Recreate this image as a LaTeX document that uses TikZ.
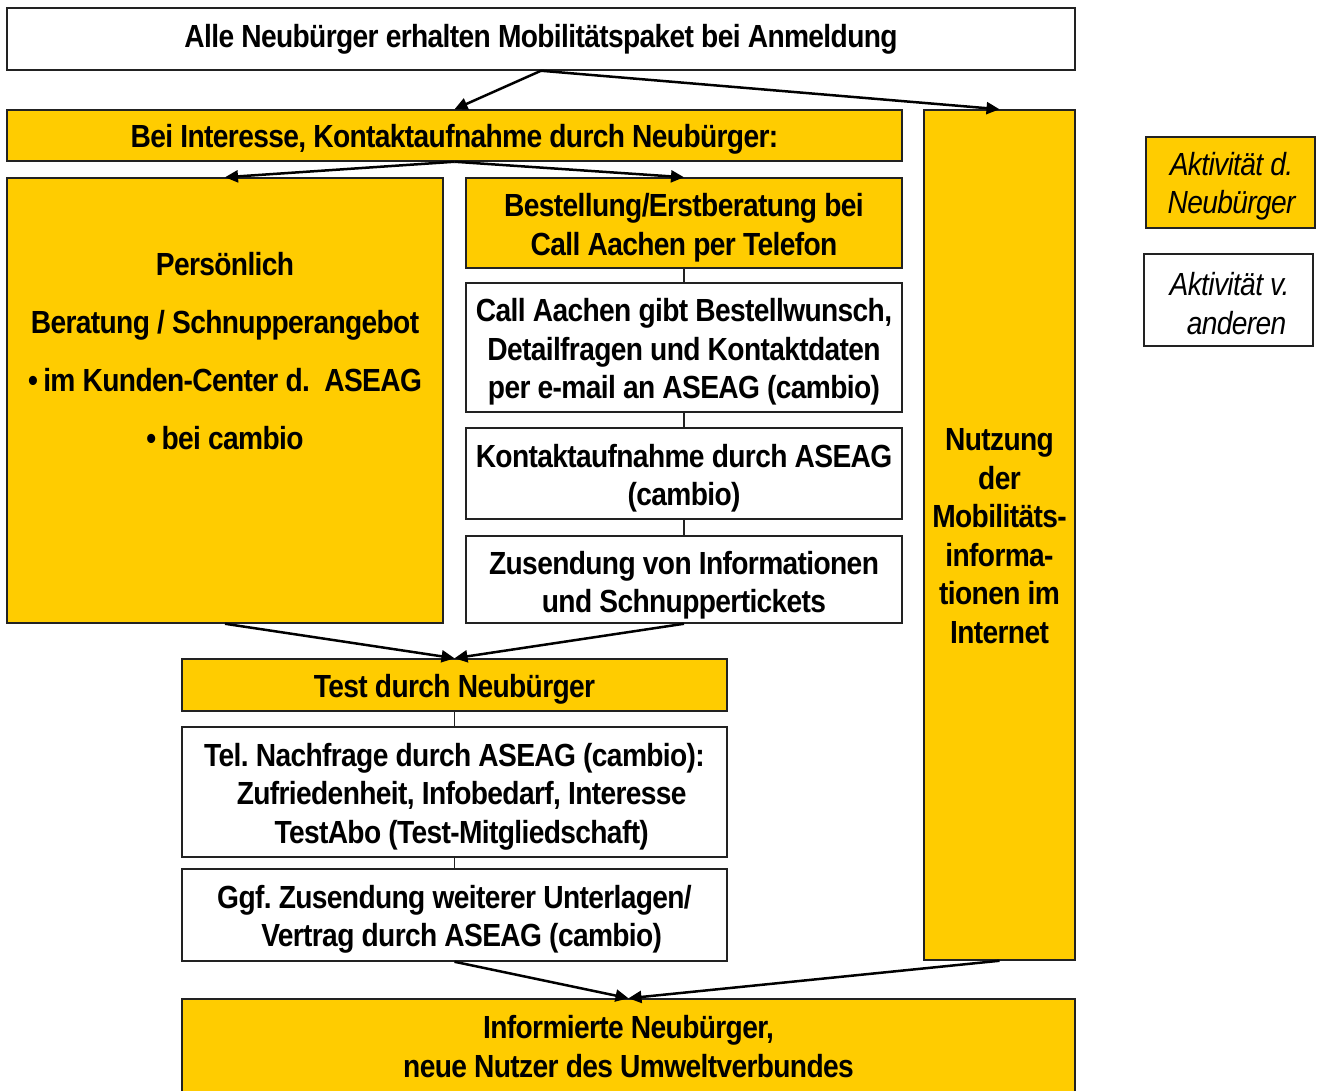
\documentclass[tikz,border=0pt]{standalone}
\usepackage{fontspec}
\setmainfont{Liberation Sans}[FakeStretch=0.88, LetterSpace=-2]
\usetikzlibrary{arrows.meta}
\definecolor{gelb}{HTML}{FFCC00}
\definecolor{rand}{HTML}{222222}
\frenchspacing
\begin{document}
\begin{tikzpicture}[x=1pt,y=-1pt,
  box/.style={draw=rand, line width=1.5pt, fill=white, inner sep=0pt},
  yel/.style={box, fill=gelb},
  txt/.style={inner sep=0pt, align=center, font=\fontsize{32}{38.5}\selectfont\bfseries},
  ltxt/.style={txt, font=\fontsize{32}{38.5}\selectfont\itshape},
  arr/.style={line width=2.5pt, -{Triangle[length=13pt,width=12pt]}},
  con/.style={line width=1.5pt, draw=rand}]
\useasboundingbox (0,0) rectangle (1322,1090);

% boxes
\node[box, minimum width=1068, minimum height=62] (top) at (541,39) {};
\node[yel, minimum width=895, minimum height=51] (interest) at (454.5,135.5) {};
\node[yel, minimum width=151, minimum height=850] (nutz) at (999.5,535) {};
\node[yel, minimum width=436, minimum height=445] (pers) at (225,400.5) {};
\node[yel, minimum width=436, minimum height=90] (best) at (684,223) {};
\node[box, minimum width=436, minimum height=129] (call) at (684,347.5) {};
\node[box, minimum width=436, minimum height=91] (kont) at (684,473.5) {};
\node[box, minimum width=436, minimum height=87] (zus) at (684,579.5) {};
\node[yel, minimum width=545, minimum height=52] (test) at (454.5,685) {};
\node[box, minimum width=545, minimum height=130] (tel) at (454.5,792) {};
\node[box, minimum width=545, minimum height=92] (ggf) at (454.5,915) {};
\node[yel, minimum width=893, minimum height=94] (info) at (628.5,1046) {};
\node[yel, minimum width=169, minimum height=91] (leg1) at (1230.5,182.5) {};
\node[box, minimum width=169, minimum height=92] (leg2) at (1228.5,300) {};

% texts
\node[txt] (ttop) at (541,39) {Alle Neubürger erhalten Mobilitätspaket bei Anmeldung};
\node[txt] (tinterest) at (454.5,139.5) {Bei Interesse, Kontaktaufnahme durch Neubürger:};
\node[txt] (tnutz) at (999.5,536)
  {Nutzung\\der\\Mobilitäts-\\informa-\\tionen im\\Internet};
\node[txt, font=\fontsize{32}{58}\selectfont\bfseries] (tpers) at (225,351)
  {Persönlich\\Beratung / Schnupperangebot\\•\,im Kunden-Center d.\ \ ASEAG\\•\,bei cambio};
\node[txt] (tbest) at (684,227.5) {Bestellung/Erstberatung bei\\Call Aachen per Telefon};
\node[txt] (tcall) at (684,352)
  {Call Aachen gibt Bestellwunsch,\\Detailfragen und Kontaktdaten\\per e-mail an ASEAG (cambio)};
\node[txt] (tkont) at (684,478) {Kontaktaufnahme durch ASEAG\\(cambio)};
\node[txt] (tzus) at (684,585) {Zusendung von Informationen\\und Schnuppertickets};
\node[txt] (ttest) at (454.5,689.5) {Test durch Neubürger};
\node[txt] (ttel) at (454.5,796.5)
  {Tel. Nachfrage durch ASEAG (cambio):\\\ \ Zufriedenheit, Infobedarf, Interesse\\\ \ TestAbo (Test-Mitgliedschaft)};
\node[txt] (tggf) at (454.5,919.5)
  {Ggf. Zusendung weiterer Unterlagen/\\\ \ Vertrag durch ASEAG (cambio)};
\node[txt] (tinfo) at (628.5,1046.5) {Informierte Neubürger,\\neue Nutzer des Umweltverbundes};
\node[ltxt] (tleg1) at (1231.5,186) {Aktivität d.\\Neubürger};
\node[ltxt] (tleg2) at (1229.5,303.5) {Aktivität v.\\\hspace*{14pt}anderen};

% connectors
\draw[arr] (top.south) -- (interest.north);
\draw[arr] (top.south) -- (nutz.north);
\draw[arr] (interest.south) -- (pers.north);
\draw[arr] (interest.south) -- (best.north);
\draw[con] (best.south) -- (call.north);
\draw[con] (call.south) -- (kont.north);
\draw[con] (kont.south) -- (zus.north);
\draw[arr] (pers.south) -- (test.north);
\draw[arr] (zus.south) -- (test.north);
\draw[con] (test.south) -- (tel.north);
\draw[con] (tel.south) -- (ggf.north);
\draw[arr] (ggf.south) -- (info.north);
\draw[arr] (nutz.south) -- (info.north);
\end{tikzpicture}
\end{document}
